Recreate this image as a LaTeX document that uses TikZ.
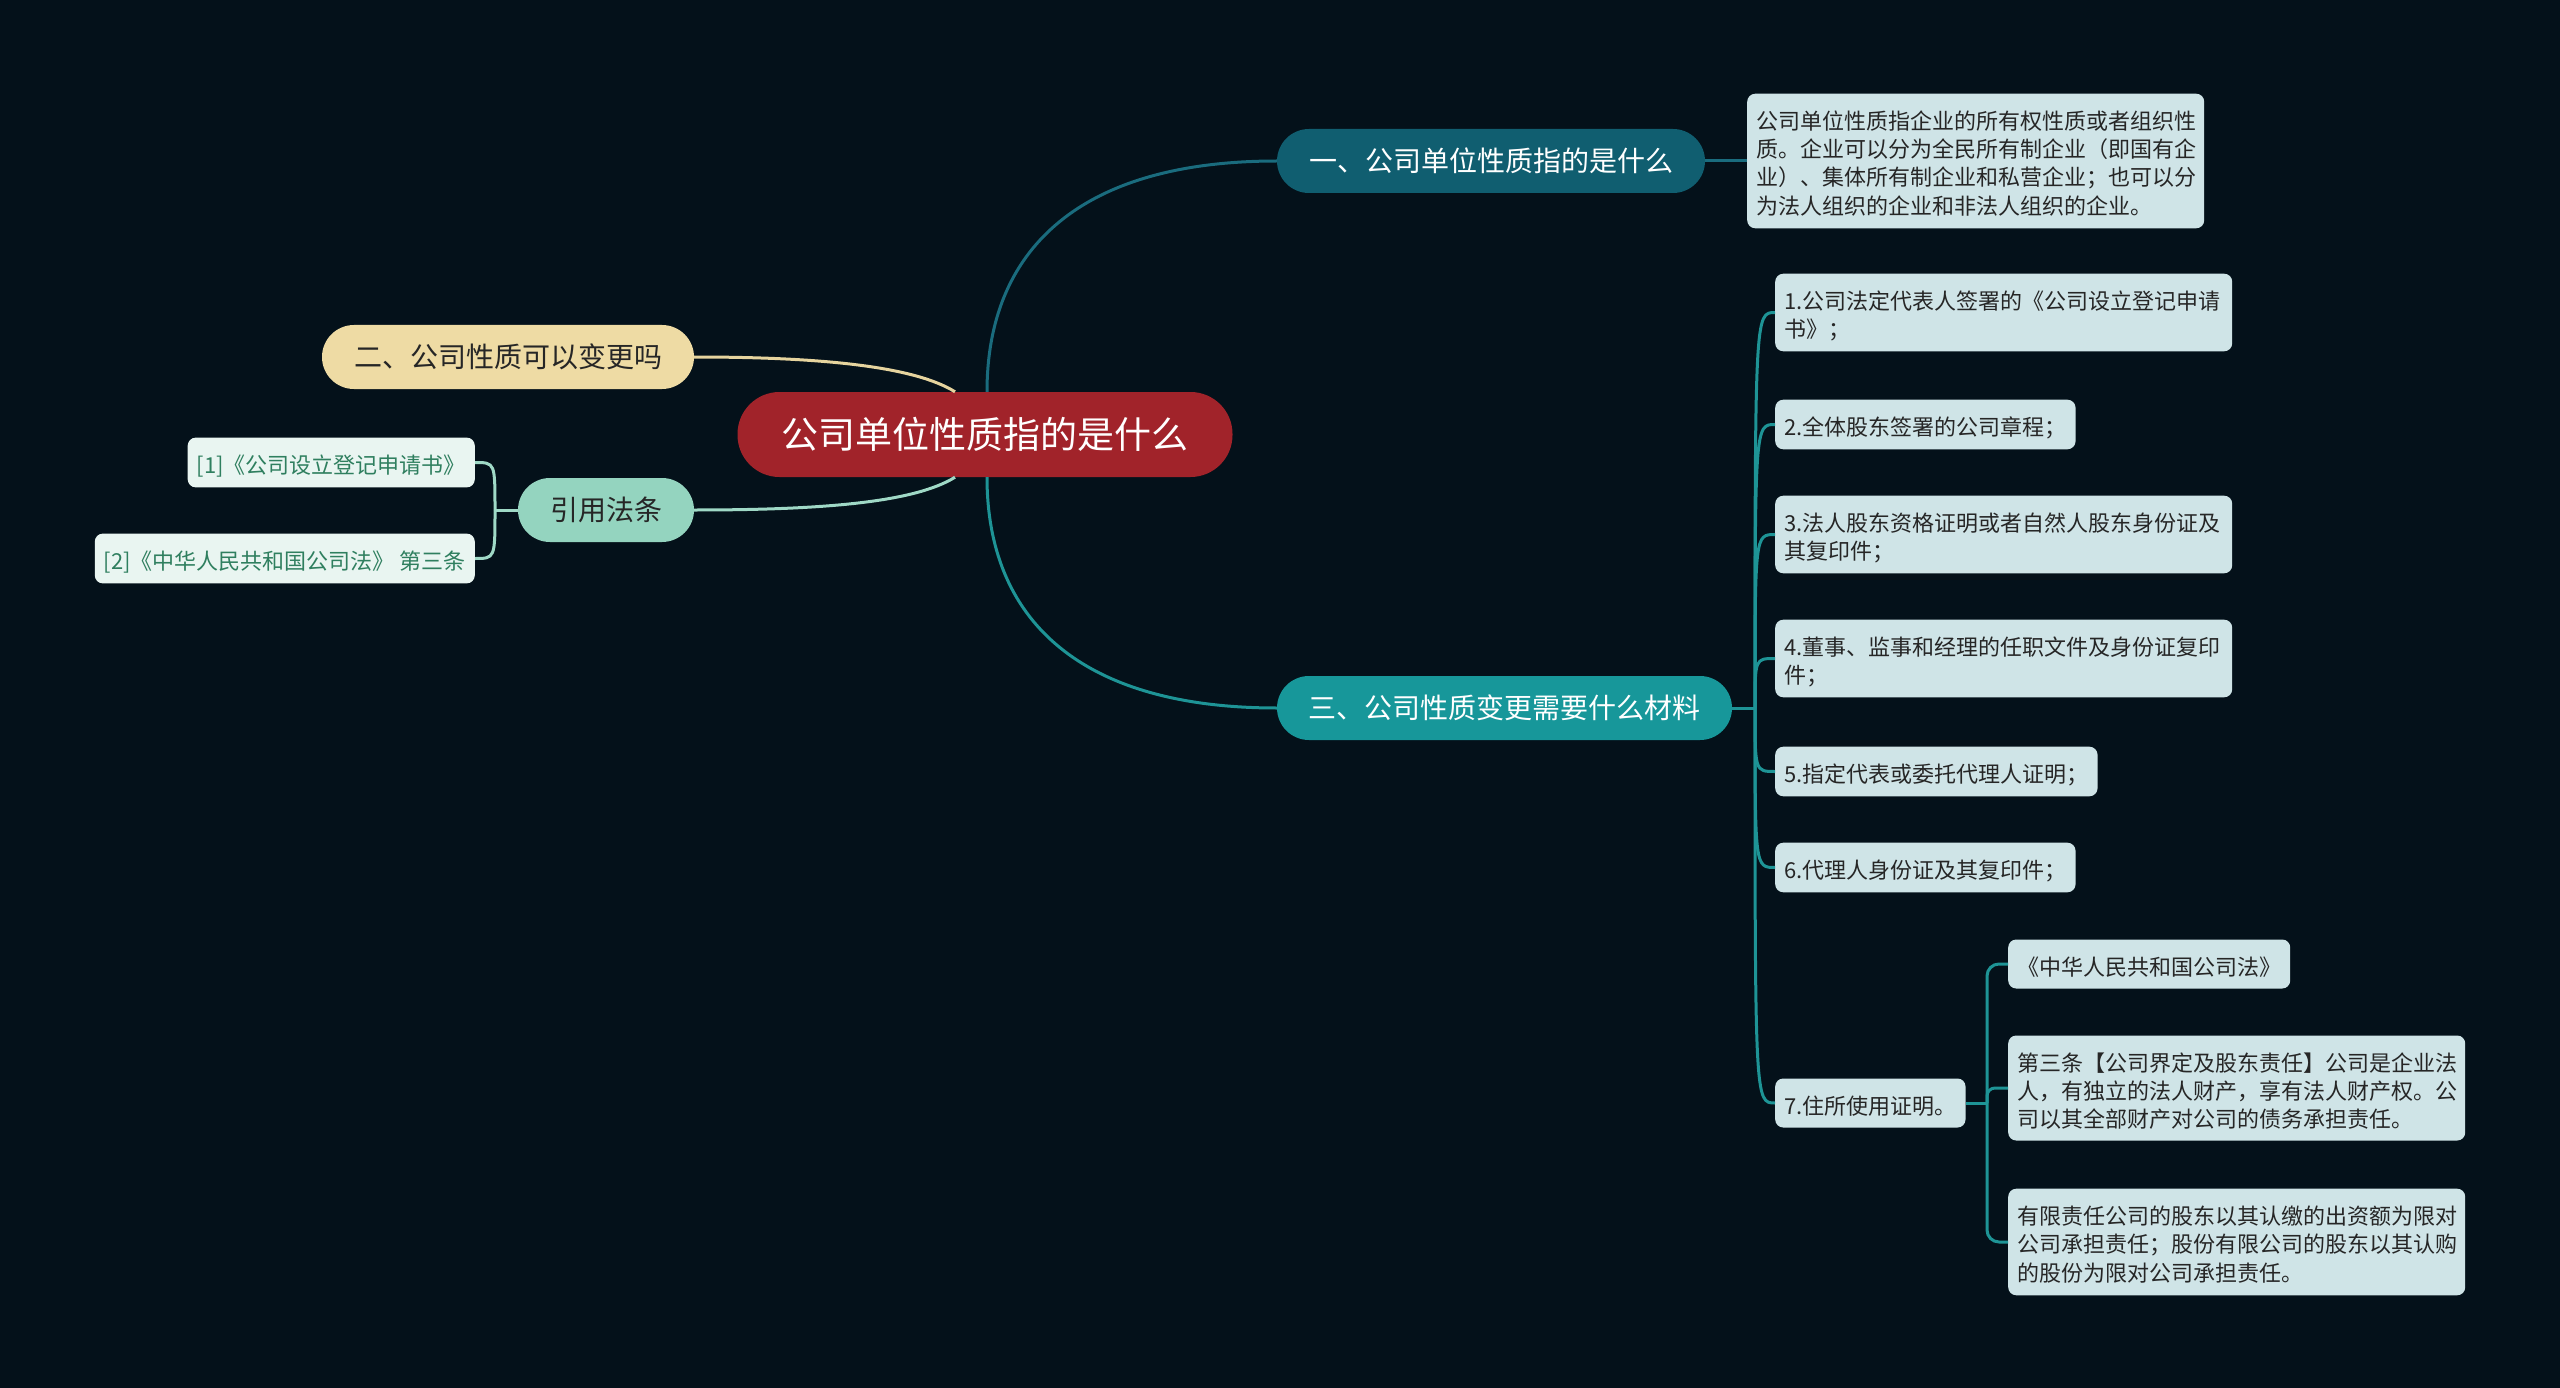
\documentclass[tikz,border=0pt]{standalone}
\usepackage{fontspec}
\setmainfont{Noto Sans CJK SC}
\usetikzlibrary{calc}
\definecolor{bg}{HTML}{04111A}
\definecolor{rootc}{HTML}{A1232A}
\definecolor{onec}{HTML}{105E70}
\definecolor{threec}{HTML}{17979A}
\definecolor{twoc}{HTML}{EEDBA4}
\definecolor{refc}{HTML}{94D4BF}
\definecolor{leafc}{HTML}{CFE4E7}
\definecolor{refleafc}{HTML}{E9F5F1}
\definecolor{refleaftext}{HTML}{2F7F5F}
\definecolor{lineone}{HTML}{1A6C7E}
\definecolor{linethree}{HTML}{1E9496}
\definecolor{linetwo}{HTML}{E6D49E}
\definecolor{lineref}{HTML}{9FD9C6}
\definecolor{darktext}{HTML}{262626}
\newcommand\mystrut{\rule[-3pt]{0pt}{28pt}}
\begin{document}
\begin{tikzpicture}[x=1pt,y=-1pt,
  pill/.style={rounded corners=32pt, minimum height=64pt, inner sep=0pt,
    font=\fontsize{28}{34}\selectfont},
  leaf/.style={fill=leafc, rounded corners=8pt, inner xsep=9pt, inner ysep=10.5pt,
    align=left, font=\fontsize{22}{28}\selectfont, text=darktext,
    execute at begin node=\mystrut, execute at end node=\mystrut, anchor=west},
  wide/.style={text width=439pt},
  refleaf/.style={fill=refleafc, rounded corners=8pt, inner xsep=9pt, inner ysep=10.5pt,
    font=\fontsize{22}{28}\selectfont, text=refleaftext,
    execute at begin node=\mystrut, anchor=east},
  conn/.style={line width=3pt}
]
\fill[bg] (0,0) rectangle (2560,1388);
\useasboundingbox (0,0) rectangle (2560,1388);

% main nodes
\node[fill=rootc, rounded corners=42pt, minimum height=85pt, minimum width=495pt, inner sep=0pt,
  text=white, font=\fontsize{37}{44}\selectfont] (root) at (985,434.5) {公司单位性质指的是什么};
\node[pill, fill=onec, text=white, minimum width=428pt] (one) at (1491,161) {一、公司单位性质指的是什么};
\node[pill, fill=threec, text=white, minimum width=455pt] (three) at (1504.5,708) {三、公司性质变更需要什么材料};
\node[pill, fill=twoc, text=darktext, minimum width=372pt] (two) at (508,357) {二、公司性质可以变更吗};
\node[pill, fill=refc, text=darktext, minimum width=176pt] (ref) at (606,510) {引用法条};

% description
\node[leaf, wide] (desc) at (1747,161) {公司单位性质指企业的所有权性质或者组织性\\质。企业可以分为全民所有制企业（即国有企\\业）、集体所有制企业和私营企业；也可以分\\为法人组织的企业和非法人组织的企业。};

% materials
\node[leaf, wide] (m1) at (1775,312.5) {1.公司法定代表人签署的《公司设立登记申请\\书》；};
\node[leaf] (m2) at (1775,424.5) {2.全体股东签署的公司章程；};
\node[leaf, wide] (m3) at (1775,534.5) {3.法人股东资格证明或者自然人股东身份证及\\其复印件；};
\node[leaf, wide] (m4) at (1775,658.5) {4.董事、监事和经理的任职文件及身份证复印\\件；};
\node[leaf] (m5) at (1775,771.5) {5.指定代表或委托代理人证明；};
\node[leaf] (m6) at (1775,867.5) {6.代理人身份证及其复印件；};
\node[leaf] (m7) at (1775,1103) {7.住所使用证明。};

\node[leaf] (sa) at (2008,964) {《中华人民共和国公司法》};
\node[leaf, wide] (sb) at (2008,1088) {第三条【公司界定及股东责任】公司是企业法\\人，有独立的法人财产，享有法人财产权。公\\司以其全部财产对公司的债务承担责任。};
\node[leaf, wide] (sc) at (2008,1242) {有限责任公司的股东以其认缴的出资额为限对\\公司承担责任；股份有限公司的股东以其认购\\的股份为限对公司承担责任。};

% references
\node[refleaf] (r1) at (475,462.5) {[1]《公司设立登记申请书》};
\node[refleaf] (r2) at (475,558.5) {[2]《中华人民共和国公司法》 第三条};

% connectors from root
\draw[conn, lineone] ([xshift=2pt]root.north) .. controls ($([xshift=2pt]root.north)+(0,-140)$) and ($(one.west)+(-200,0)$) .. (one.west);
\draw[conn, linethree] ([xshift=2pt]root.south) .. controls ($([xshift=2pt]root.south)+(0,140)$) and ($(three.west)+(-200,0)$) .. (three.west);
\draw[conn, linetwo] (two.east) .. controls ($(two.east)+(130,0)$) and ($([xshift=-30pt]root.north)+(-40,-25)$) .. ([xshift=-30pt]root.north);
\draw[conn, lineref] (ref.east) .. controls ($(ref.east)+(130,0)$) and ($([xshift=-30pt]root.south)+(-40,25)$) .. ([xshift=-30pt]root.south);

\draw[conn, lineone] (one.east) -- (desc.west);

% materials tree
\coordinate (tj) at (1755,708);
\draw[conn, linethree] (three.east) -- (tj);
\foreach \n in {m1,m2,m3,m4,m5,m6,m7}{
  \draw[conn, linethree] (tj) .. controls (tj |- \n.west) .. (\n.west);
}
\coordinate (sj) at (1987,1103);
\draw[conn, linethree] (m7.east) -- (sj);
\draw[conn, linethree, rounded corners=12pt] (sj) |- (sa.west);
\draw[conn, linethree, rounded corners=12pt] (sj) |- (sc.west);
\draw[conn, linethree, rounded corners=8pt] (sj) |- (sb.west);

% reference bracket
\coordinate (rj) at (495,510);
\draw[conn, lineref] (ref.west) -- (rj);
\draw[conn, lineref] (rj) .. controls (rj |- r1.east) .. (r1.east);
\draw[conn, lineref] (rj) .. controls (rj |- r2.east) .. (r2.east);
\end{tikzpicture}
\end{document}
